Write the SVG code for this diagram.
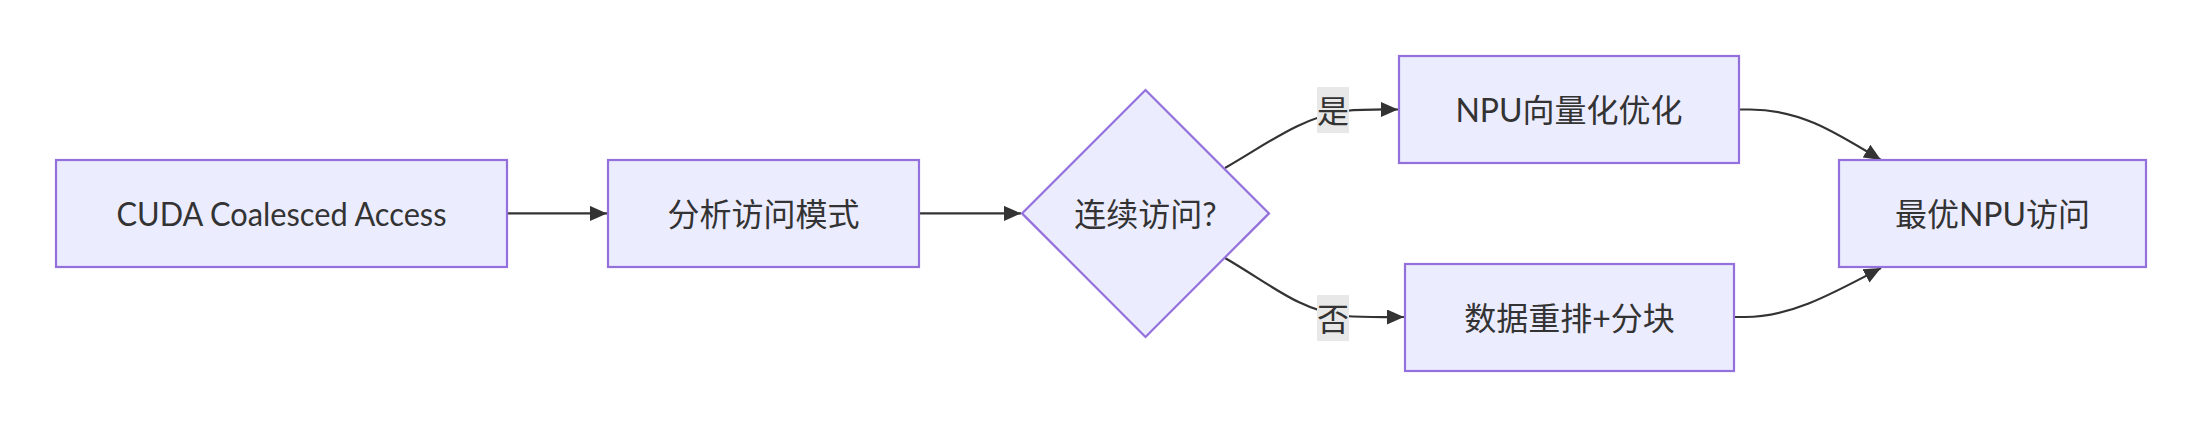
<svg xmlns="http://www.w3.org/2000/svg" width="2201" height="428" viewBox="0 0 2201 428">
<style>
.node rect,.node polygon{fill:#ECECFF;stroke:#9370DB;stroke-width:2.2}
.node text{font-family:Lato,"Noto Sans CJK SC",sans-serif;font-size:32px;fill:#333;text-anchor:middle;dominant-baseline:central}
.edge{fill:none;stroke:#333;stroke-width:2.2}
.lbl rect{fill:#e8e8e8}
.lbl text{font-family:Lato,"Noto Sans CJK SC",sans-serif;font-size:32px;fill:#333;text-anchor:middle;dominant-baseline:central}
</style>
<defs>
<marker id="arr" viewBox="0 0 10 10" refX="10" refY="5" markerWidth="17" markerHeight="15" markerUnits="userSpaceOnUse" orient="auto" preserveAspectRatio="none">
<path d="M0,0 L10,5 L0,10 z" fill="#333"/>
</marker>
</defs>
<rect width="2201" height="428" fill="#fff"/>
<g id="connectors">
<path class="edge" d="M507,213.4 L607,213.4" marker-end="url(#arr)"/>
<path class="edge" d="M919,213.4 L1021,213.4" marker-end="url(#arr)"/>
<path class="edge" d="M1225,168 C1270,142 1300,118 1345,111 C1365,109 1380,109.5 1398,109.5" marker-end="url(#arr)"/>
<path class="edge" d="M1225,258 C1270,284 1300,311 1345,316 C1365,317.5 1380,317 1404,317" marker-end="url(#arr)"/>
<path class="edge" d="M1739,109.5 L1750,109.5 C1800,109.5 1835,132 1881,160" marker-end="url(#arr)"/>
<path class="edge" d="M1733,317 L1745,317 C1790,317 1830,295 1881,268" marker-end="url(#arr)"/>
</g>
<g id="edge-labels">
<g class="lbl"><rect x="1317" y="87" width="32" height="46"/><text x="1333" y="110">是</text></g>
<g class="lbl"><rect x="1317" y="295" width="32" height="46"/><text x="1333" y="318">否</text></g>
</g>
<g id="A" class="node"><rect x="56" y="160" width="451" height="107"/><text x="281.5" y="213.4" textLength="330" lengthAdjust="spacingAndGlyphs">CUDA Coalesced Access</text></g>
<g id="B" class="node"><rect x="608" y="160" width="311" height="107"/><text x="763.5" y="213.4">分析访问模式</text></g>
<g id="C" class="node"><polygon points="1145.5,90 1269,213.4 1145.5,337 1022,213.4"/><text x="1145.5" y="213.4">连续访问?</text></g>
<g id="D" class="node"><rect x="1399" y="56" width="340" height="107"/><text x="1569" y="109.5">NPU向量化优化</text></g>
<g id="E" class="node"><rect x="1405" y="264" width="329" height="107"/><text x="1569.5" y="317">数据重排+分块</text></g>
<g id="F" class="node"><rect x="1839" y="160" width="307" height="107"/><text x="1992.5" y="213.4">最优NPU访问</text></g>
</svg>
